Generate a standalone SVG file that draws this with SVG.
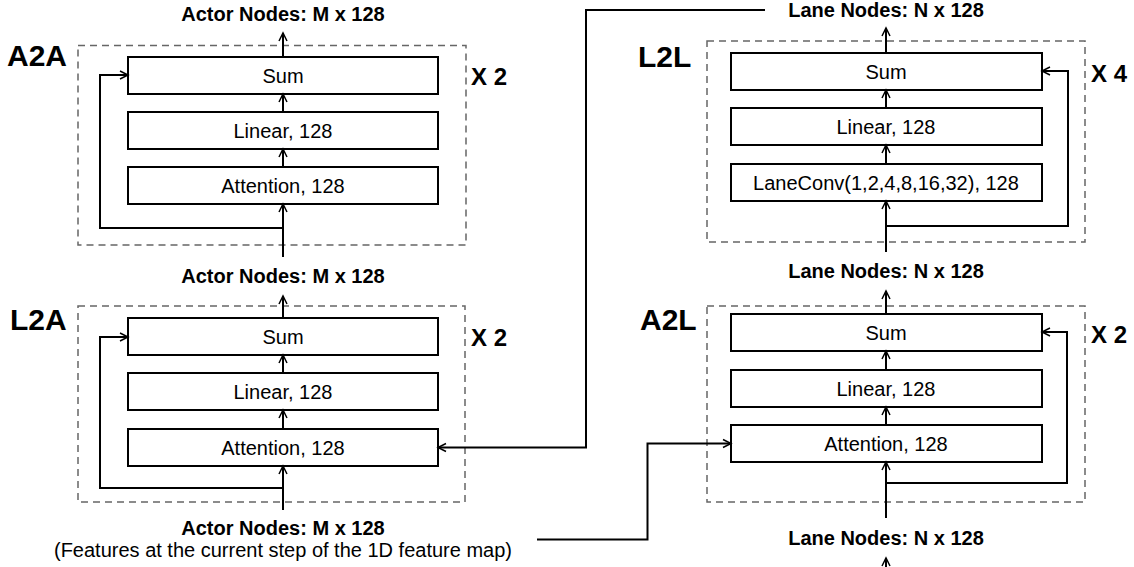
<svg xmlns="http://www.w3.org/2000/svg" width="1134" height="567" viewBox="0 0 1134 567">
<style>
.dash{fill:none;stroke:#666;stroke-width:1.5;stroke-dasharray:7 5}
.box{fill:#fff;stroke:#000;stroke-width:2}
.t{font-family:"Liberation Sans",Arial,sans-serif;font-size:20px;fill:#000;text-anchor:middle}
.b{font-family:"Liberation Sans",Arial,sans-serif;font-weight:bold;font-size:20px;fill:#000;text-anchor:middle}
.lbl{font-family:"Liberation Sans",Arial,sans-serif;font-weight:bold;font-size:30px;fill:#000}
.rep{font-family:"Liberation Sans",Arial,sans-serif;font-weight:bold;font-size:24px;fill:#000}
.c{fill:none;stroke:#000;stroke-width:2}
</style>
<defs>
<marker id="arr" markerUnits="userSpaceOnUse" markerWidth="12" markerHeight="12" viewBox="0 0 12 12" refX="10" refY="6" orient="auto">
<path d="M2,2 L10,6 L2,10" fill="none" stroke="#000" stroke-width="1.5"/>
</marker>
</defs>

<g id="a2a">
<rect class="dash" x="78" y="45.5" width="388" height="199.5"/>
<text class="lbl" x="7" y="66">A2A</text>
<text class="rep" x="471" y="85">X 2</text>
<rect class="box" x="128" y="57" width="310" height="37"/>
<text class="t" x="283" y="82.5">Sum</text>
<rect class="box" x="128" y="112" width="310" height="37"/>
<text class="t" x="283" y="137.5">Linear, 128</text>
<rect class="box" x="128" y="167" width="310" height="37"/>
<text class="t" x="283" y="192.5">Attention, 128</text>
</g>

<g id="l2a">
<rect class="dash" x="78" y="306" width="387" height="196"/>
<text class="lbl" x="10" y="330">L2A</text>
<text class="rep" x="471" y="346">X 2</text>
<rect class="box" x="128" y="318" width="310" height="37"/>
<text class="t" x="283" y="343.5">Sum</text>
<rect class="box" x="128" y="373" width="310" height="37"/>
<text class="t" x="283" y="398.5">Linear, 128</text>
<rect class="box" x="128" y="429" width="310" height="37"/>
<text class="t" x="283" y="454.5">Attention, 128</text>
</g>

<g id="l2l">
<rect class="dash" x="707" y="41" width="378" height="201"/>
<text class="lbl" x="638" y="67">L2L</text>
<text class="rep" x="1091" y="82">X 4</text>
<rect class="box" x="731" y="53" width="311" height="37"/>
<text class="t" x="886" y="78.5">Sum</text>
<rect class="box" x="731" y="108" width="311" height="37"/>
<text class="t" x="886" y="133.5">Linear, 128</text>
<rect class="box" x="731" y="164" width="311" height="37"/>
<text class="t" x="886" y="189.5">LaneConv(1,2,4,8,16,32), 128</text>
</g>

<g id="a2l">
<rect class="dash" x="707" y="306" width="378" height="196"/>
<text class="lbl" x="640" y="330">A2L</text>
<text class="rep" x="1091" y="343">X 2</text>
<rect class="box" x="731" y="314" width="311" height="37"/>
<text class="t" x="886" y="339.5">Sum</text>
<rect class="box" x="731" y="370" width="311" height="37"/>
<text class="t" x="886" y="395.5">Linear, 128</text>
<rect class="box" x="731" y="425" width="311" height="37"/>
<text class="t" x="886" y="450.5">Attention, 128</text>
</g>

<g id="labels">
<text class="b" x="283" y="21">Actor Nodes: M x 128</text>
<text class="b" x="283" y="283">Actor Nodes: M x 128</text>
<text class="b" x="283" y="535">Actor Nodes: M x 128</text>
<text class="t" x="283" y="557">(Features at the current step of the 1D feature map)</text>
<text class="b" x="886" y="17">Lane Nodes: N x 128</text>
<text class="b" x="886" y="278">Lane Nodes: N x 128</text>
<text class="b" x="886" y="545">Lane Nodes: N x 128</text>
</g>

<g id="connectors">
<path class="c" d="M283,57 V33" marker-end="url(#arr)"/>
<path class="c" d="M283,112 V94" marker-end="url(#arr)"/>
<path class="c" d="M283,167 V149" marker-end="url(#arr)"/>
<path class="c" d="M283,257 V204" marker-end="url(#arr)"/>
<path class="c" d="M283,228 H100 V75 H128" marker-end="url(#arr)"/>

<path class="c" d="M283,318 V296" marker-end="url(#arr)"/>
<path class="c" d="M283,373 V355" marker-end="url(#arr)"/>
<path class="c" d="M283,429 V410" marker-end="url(#arr)"/>
<path class="c" d="M283,510 V466" marker-end="url(#arr)"/>
<path class="c" d="M283,488 H100 V337 H128" marker-end="url(#arr)"/>

<path class="c" d="M886,53 V28" marker-end="url(#arr)"/>
<path class="c" d="M886,108 V90" marker-end="url(#arr)"/>
<path class="c" d="M886,164 V145" marker-end="url(#arr)"/>
<path class="c" d="M886,252 V201" marker-end="url(#arr)"/>
<path class="c" d="M886,226 H1068 V71 H1042" marker-end="url(#arr)"/>

<path class="c" d="M886,314 V291" marker-end="url(#arr)"/>
<path class="c" d="M886,370 V351" marker-end="url(#arr)"/>
<path class="c" d="M886,425 V407" marker-end="url(#arr)"/>
<path class="c" d="M886,518 V462" marker-end="url(#arr)"/>
<path class="c" d="M886,483 H1067 V332 H1042" marker-end="url(#arr)"/>
<path class="c" d="M886,575 V558" marker-end="url(#arr)"/>

<path class="c" d="M765,10 H586 V447.5 H438" marker-end="url(#arr)"/>
<path class="c" d="M537,539.5 H647.5 V443.5 H731" marker-end="url(#arr)"/>
</g>
</svg>
